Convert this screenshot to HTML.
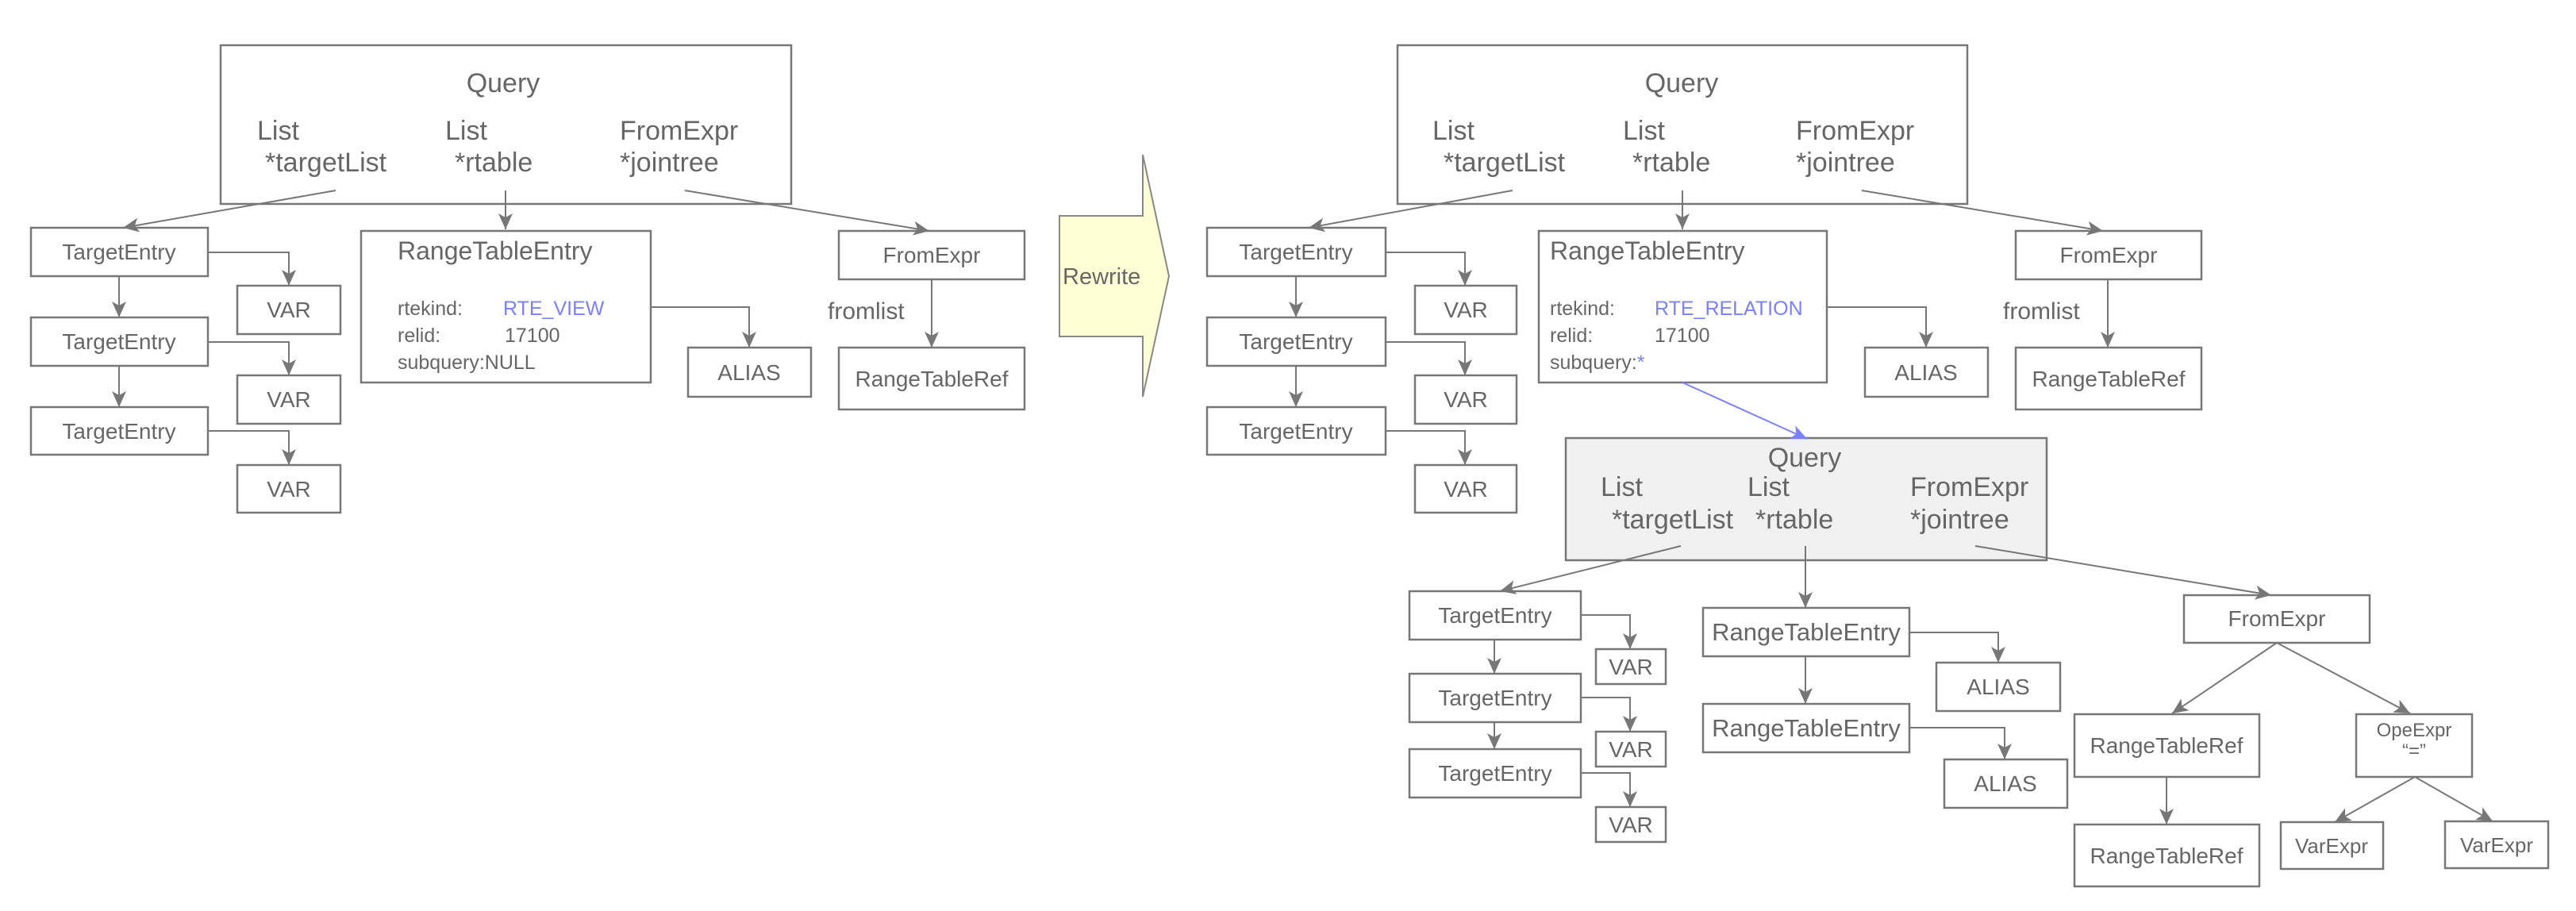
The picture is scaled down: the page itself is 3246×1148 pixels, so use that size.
<!DOCTYPE html>
<html><head><meta charset="utf-8"><style>
html,body{margin:0;padding:0;background:#fff}
svg{display:block}
text{font-family:"Liberation Sans Narrow","Liberation Sans",sans-serif;fill:#666}
</style></head><body>
<svg width="3246" height="1148" viewBox="0 0 3246 1148" xmlns="http://www.w3.org/2000/svg">
<defs>
<marker id="a" markerUnits="userSpaceOnUse" markerWidth="22" markerHeight="22" refX="20" refY="9" orient="auto"><path d="M0,0 L20,9 L0,18 L5,9 z" fill="#777"/></marker>
<marker id="b" markerUnits="userSpaceOnUse" markerWidth="22" markerHeight="22" refX="20" refY="9" orient="auto"><path d="M0,0 L20,9 L0,18 L5,9 z" fill="#7a80ff"/></marker>
</defs>
<g fill="none" stroke="#777" stroke-width="2.5">
<!-- LEFT -->
<rect x="278" y="57" width="719" height="200"/>
<rect x="39" y="287" width="223" height="61"/><rect x="39" y="400" width="223" height="61"/><rect x="39" y="513" width="223" height="60"/>
<rect x="299" y="360" width="130" height="61"/><rect x="299" y="473" width="130" height="61"/><rect x="299" y="586" width="130" height="60"/>
<rect x="455" y="291" width="365" height="191"/>
<rect x="867" y="438" width="155" height="62"/>
<rect x="1057" y="291" width="234" height="61"/><rect x="1057" y="438" width="234" height="78"/>
<!-- RIGHT -->
<rect x="1761" y="57" width="718" height="200"/>
<rect x="1521" y="287" width="225" height="61"/><rect x="1521" y="400" width="225" height="61"/><rect x="1521" y="513" width="225" height="60"/>
<rect x="1783" y="360" width="128" height="61"/><rect x="1783" y="473" width="128" height="61"/><rect x="1783" y="586" width="128" height="60"/>
<rect x="1939" y="291" width="363" height="191"/>
<rect x="2350" y="438" width="155" height="62"/>
<rect x="2540" y="291" width="234" height="61"/><rect x="2540" y="438" width="234" height="78"/>
<rect x="1973" y="552" width="606" height="154" fill="#f1f1f1"/>
<rect x="1776" y="745" width="216" height="61"/><rect x="1776" y="849" width="216" height="61"/><rect x="1776" y="944" width="216" height="61"/>
<rect x="2011" y="818" width="88" height="44"/><rect x="2011" y="922" width="88" height="44"/><rect x="2011" y="1017" width="88" height="44"/>
<rect x="2146" y="766" width="260" height="61"/><rect x="2146" y="887" width="260" height="61"/>
<rect x="2440" y="835" width="156" height="61"/><rect x="2450" y="957" width="155" height="61"/>
<rect x="2752" y="750" width="234" height="60"/>
<rect x="2614" y="900" width="233" height="79"/><rect x="2614" y="1039" width="233" height="78"/>
<rect x="2969" y="900" width="146" height="79"/>
<rect x="2874" y="1036" width="129" height="59"/><rect x="3081" y="1035" width="130" height="59"/>
</g>
<polygon points="1335,272 1440,272 1440,195 1473,348 1440,500 1440,424 1335,424" fill="#ffffd6" stroke="#888" stroke-width="2"/>
<g fill="none" stroke="#777" stroke-width="2" marker-end="url(#a)">
<!-- left connectors -->
<line x1="423" y1="240" x2="155" y2="287"/>
<line x1="637" y1="240" x2="637" y2="289"/>
<line x1="863" y1="240" x2="1171" y2="291"/>
<polyline points="262,318 364,318 364,360"/><polyline points="262,431 364,431 364,473"/><polyline points="262,543 364,543 364,586"/>
<line x1="150" y1="348" x2="150" y2="400"/><line x1="150" y1="461" x2="150" y2="513"/>
<polyline points="820,387 944,387 944,438"/>
<line x1="1174" y1="352" x2="1174" y2="438"/>
<!-- right connectors -->
<line x1="1906" y1="240" x2="1649" y2="287"/>
<line x1="2120" y1="240" x2="2120" y2="289"/>
<line x1="2346" y1="240" x2="2650" y2="291"/>
<polyline points="1746,318 1846,318 1846,360"/><polyline points="1746,431 1846,431 1846,473"/><polyline points="1746,543 1846,543 1846,586"/>
<line x1="1633" y1="348" x2="1633" y2="400"/><line x1="1633" y1="461" x2="1633" y2="513"/>
<polyline points="2302,387 2427,387 2427,438"/>
<line x1="2656" y1="352" x2="2656" y2="438"/>
<line x1="2118" y1="688" x2="1890" y2="745"/>
<line x1="2275" y1="688" x2="2275" y2="766"/>
<line x1="2489" y1="688" x2="2862" y2="750"/>
<polyline points="1992,775 2054,775 2054,818"/><polyline points="1992,879 2054,879 2054,922"/><polyline points="1992,974 2054,974 2054,1017"/>
<line x1="1883" y1="806" x2="1883" y2="849"/><line x1="1883" y1="910" x2="1883" y2="944"/>
<line x1="2275" y1="827" x2="2275" y2="887"/>
<polyline points="2406,797 2518,797 2518,835"/><polyline points="2406,917 2526,917 2526,957"/>
<line x1="2869" y1="810" x2="2737" y2="899"/><line x1="2869" y1="810" x2="3037" y2="899"/>
<line x1="2730" y1="979" x2="2730" y2="1039"/>
<line x1="3043" y1="979" x2="2942" y2="1036"/><line x1="3043" y1="979" x2="3141" y2="1035"/>
</g>
<line x1="2120" y1="482" x2="2277" y2="553" stroke="#7a80ff" stroke-width="2" marker-end="url(#b)"/>
<!-- LEFT text -->
<g font-size="34">
<text x="634" y="116" text-anchor="middle">Query</text>
<text x="324" y="176">List</text><text x="334" y="216">*targetList</text>
<text x="561" y="176">List</text><text x="573" y="216">*rtable</text>
<text x="781" y="176">FromExpr</text><text x="781" y="216">*jointree</text>
</g>
<g font-size="28" text-anchor="middle">
<text x="150" y="327">TargetEntry</text><text x="150" y="440">TargetEntry</text><text x="150" y="553">TargetEntry</text>
<text x="364" y="400">VAR</text><text x="364" y="513">VAR</text><text x="364" y="626">VAR</text>
<text x="944" y="479">ALIAS</text>
<text x="1174" y="331">FromExpr</text>
<text x="1174" y="487">RangeTableRef</text>
</g>
<text x="501" y="327" font-size="32">RangeTableEntry</text>
<g font-size="25">
<text x="501" y="397">rtekind:</text><text x="634" y="397" style="fill:#7a80ff">RTE_VIEW</text>
<text x="501" y="431">relid:</text><text x="636" y="431">17100</text>
<text x="501" y="465">subquery:NULL</text>
</g>
<text x="1043" y="402" font-size="30">fromlist</text>
<text x="1339" y="358" font-size="29" style="fill:#666;font-family:'Liberation Sans',sans-serif">Rewrite</text>
<!-- RIGHT text -->
<g font-size="34">
<text x="2119" y="116" text-anchor="middle">Query</text>
<text x="1805" y="176">List</text><text x="1819" y="216">*targetList</text>
<text x="2045" y="176">List</text><text x="2057" y="216">*rtable</text>
<text x="2263" y="176">FromExpr</text><text x="2263" y="216">*jointree</text>
</g>
<g font-size="28" text-anchor="middle">
<text x="1633" y="327">TargetEntry</text><text x="1633" y="440">TargetEntry</text><text x="1633" y="553">TargetEntry</text>
<text x="1847" y="400">VAR</text><text x="1847" y="513">VAR</text><text x="1847" y="626">VAR</text>
<text x="2427" y="479">ALIAS</text>
<text x="2657" y="331">FromExpr</text>
<text x="2657" y="487">RangeTableRef</text>
</g>
<text x="1953" y="327" font-size="32">RangeTableEntry</text>
<g font-size="25">
<text x="1953" y="397">rtekind:</text><text x="2085" y="397" style="fill:#7a80ff">RTE_RELATION</text>
<text x="1953" y="431">relid:</text><text x="2085" y="431">17100</text>
<text x="1953" y="465">subquery:<tspan style="fill:#7a80ff">*</tspan></text>
</g>
<text x="2524" y="402" font-size="30">fromlist</text>
<g font-size="34">
<text x="2274" y="588" text-anchor="middle">Query</text>
<text x="2017" y="625">List</text><text x="2031" y="666">*targetList</text>
<text x="2202" y="625">List</text><text x="2212" y="666">*rtable</text>
<text x="2407" y="625">FromExpr</text><text x="2407" y="666">*jointree</text>
</g>
<g font-size="28" text-anchor="middle">
<text x="1884" y="785">TargetEntry</text><text x="1884" y="889">TargetEntry</text><text x="1884" y="984">TargetEntry</text>
<text x="2055" y="850">VAR</text><text x="2055" y="954">VAR</text><text x="2055" y="1049">VAR</text>
<text x="2518" y="875">ALIAS</text><text x="2527" y="997">ALIAS</text>
<text x="2869" y="789">FromExpr</text>
<text x="2730" y="949">RangeTableRef</text><text x="2730" y="1088">RangeTableRef</text>
<text x="2938" y="1075" font-size="26">VarExpr</text><text x="3146" y="1074" font-size="26">VarExpr</text>
</g>
<g font-size="31" text-anchor="middle">
<text x="2276" y="807">RangeTableEntry</text><text x="2276" y="928">RangeTableEntry</text>
</g>
<g font-size="24" text-anchor="middle">
<text x="3042" y="928">OpeExpr</text><text x="3042" y="954">“=”</text>
</g>
</svg>
</body></html>
